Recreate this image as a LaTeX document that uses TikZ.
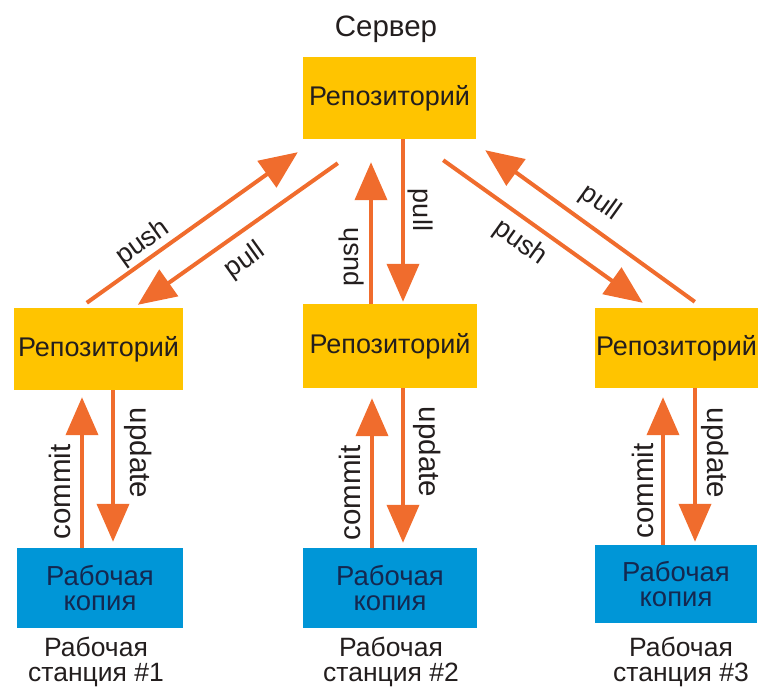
\documentclass[tikz,border=0pt]{standalone}
\usepackage{fontspec}
\setmainfont{Liberation Sans}
\usetikzlibrary{arrows.meta,calc}
\definecolor{arrowc}{RGB}{240,108,45}
\definecolor{repoc}{RGB}{255,196,0}
\definecolor{wcc}{RGB}{0,150,215}
\definecolor{txtc}{RGB}{35,30,30}
\definecolor{wctxt}{RGB}{20,40,80}
\begin{document}
\begin{tikzpicture}[x=1pt,y=-1pt,
  repobox/.style={fill=repoc, inner sep=0pt, text=txtc, font=\fontsize{27}{28}\selectfont},
  wcbox/.style={fill=wcc, inner sep=0pt, align=center, text=wctxt, font=\fontsize{27.5}{25}\selectfont},
  arr/.style={draw=arrowc, line width=4pt, -{Triangle[length=38pt,width=32pt]}},
  lbl/.style={text=txtc, font=\fontsize{27}{28}\selectfont, inner sep=0pt},
  vlbl/.style={lbl, font=\fontsize{29.5}{30}\selectfont},
  station/.style={text=txtc, font=\fontsize{26.5}{25}\selectfont, inner sep=0pt, align=center, anchor=north},
]
\useasboundingbox (0,0) rectangle (758,688);

% nodes
\node[lbl, font=\fontsize{29.5}{30}\selectfont] (srv) at (386,29) {Сервер};
\node[repobox, minimum width=173pt, minimum height=82pt] (top) at (389.5,98) {Репозиторий};
\node[repobox, minimum width=169pt, minimum height=82pt] (lrepo) at (98.5,349) {Репозиторий};
\node[repobox, minimum width=174pt, minimum height=84pt] (mrepo) at (390,346) {Репозиторий};
\node[repobox, minimum width=163pt, minimum height=80pt] (rrepo) at (676.5,348) {Репозиторий};
\node[wcbox, minimum width=166pt, minimum height=80pt] (lwc) at (100,588) {Рабочая\\копия};
\node[wcbox, minimum width=174pt, minimum height=80pt] (mwc) at (390,588) {Рабочая\\копия};
\node[wcbox, minimum width=162pt, minimum height=78pt] (rwc) at (676,584) {Рабочая\\копия};
\node[station] (ls) at (96,637) {Рабочая\\станция \#1};
\node[station] (ms) at (391,637) {Рабочая\\станция \#2};
\node[station] (rs) at (681,637) {Рабочая\\станция \#3};

% server <-> repos
\draw[arr] ($(lrepo.north west)+(73,-5)$) -- ($(top.south west)+(-5,13)$);
\draw[arr] ($(top.south west)+(35,24)$) -- ($(lrepo.north west)+(124,-3)$);
\draw[arr] ($(top.south east)+(-33,21)$) -- ($(rrepo.north west)+(48,-5)$);
\draw[arr] ($(rrepo.north west)+(100,-6)$) -- ($(top.south east)+(9,11)$);
\draw[arr] ($(mrepo.north)+(-19,0)$) -- ($(top.south)+(-18.5,23)$);
\draw[arr] ($(top.south)+(13.5,0)$) -- ($(mrepo.north)+(13,-2)$);

% repo <-> working copy
\draw[arr] ($(lwc.north)+(-18,0)$) -- ($(lrepo.south)+(-16.5,7)$);
\draw[arr] ($(lrepo.south)+(14.5,0)$) -- ($(lwc.north)+(13,-6)$);
\draw[arr] ($(mwc.north)+(-18,0)$) -- ($(mrepo.south)+(-18,10)$);
\draw[arr] ($(mrepo.south)+(13,0)$) -- ($(mwc.north)+(13,-5)$);
\draw[arr] ($(rwc.north)+(-13,0)$) -- ($(rrepo.south)+(-13.5,9)$);
\draw[arr] ($(rrepo.south)+(18.5,0)$) -- ($(rwc.north)+(19,-3)$);

% labels
\node[lbl, rotate=35.6] (lpush) at (143,243) {push};
\node[lbl, rotate=35.6] (lpull) at (245,261) {pull};
\node[lbl, rotate=-35.6] (rpush) at (520,243) {push};
\node[lbl, rotate=-35.6] (rpull) at (600,203) {pull};
\node[lbl, rotate=90] (mpush) at (352,257) {push};
\node[lbl, rotate=-90] (mpull) at (420,210) {pull};
\node[vlbl, rotate=90] (lcommit) at (60,492) {commit};
\node[vlbl, rotate=90] (mcommit) at (350,493) {commit};
\node[vlbl, rotate=90] (rcommit) at (643,491) {commit};
\node[vlbl, rotate=-90] (lupdate) at (138,453) {update};
\node[vlbl, rotate=-90] (mupdate) at (427,452) {update};
\node[vlbl, rotate=-90] (rupdate) at (715,453) {update};
\end{tikzpicture}
\end{document}
